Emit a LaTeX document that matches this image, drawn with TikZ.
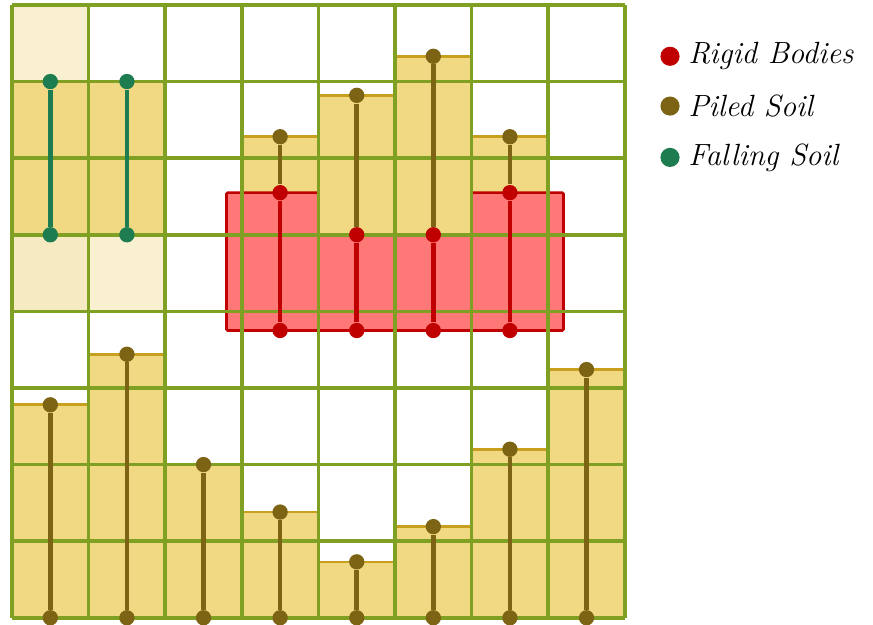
\documentclass[tikz,border=0pt]{standalone}
\usetikzlibrary{positioning}

\definecolor{gridgreen}{RGB}{128,160,36}
\definecolor{soilfill}{RGB}{240,217,130}
\definecolor{soiledge}{RGB}{200,160,30}
\definecolor{soillight}{RGB}{249,240,210}
\definecolor{soillighter}{RGB}{246,234,195}
\definecolor{piledbrown}{RGB}{125,100,20}
\definecolor{rigidfill}{RGB}{255,120,120}
\definecolor{rigidred}{RGB}{192,0,0}
\definecolor{fallgreen}{RGB}{30,125,80}

\begin{document}
\begin{tikzpicture}[
  x=1cm, y=1cm,
  cell/.style={draw=gridgreen, line width=1.3pt},
  soil/.style={fill=soilfill, draw=soiledge, line width=0.3pt},
  soiltop/.style={draw=soiledge, line width=1pt},
  rigid/.style={fill=rigidfill, draw=rigidred, line width=1pt, rounded corners=0.5pt},
  sdot/.style={circle, inner sep=0pt, minimum size=2mm},
  pdot/.style={sdot, fill=piledbrown},
  rdot/.style={sdot, fill=rigidred},
  fdot/.style={sdot, fill=fallgreen},
  pline/.style={draw=piledbrown, line width=1.7pt},
  rline/.style={draw=rigidred, line width=1.7pt},
  fline/.style={draw=fallgreen, line width=1.7pt},
  legdot/.style={circle, inner sep=0pt, minimum size=2.5mm},
  legtext/.style={anchor=west, inner sep=0pt, font=\fontsize{11.4}{13}\selectfont\itshape}
]
\useasboundingbox[fill=white] (-0.157,-0.091) rectangle (11.24,8.065);

% falling soil
\fill[soillight] (0,7) rectangle (1,8);
\fill[soillighter] (0,4) rectangle (1,5);
\fill[soillight] (1,4) rectangle (2,5);
\fill[soilfill] (0,5) rectangle (2,7);

% piled soil, bottom
\foreach \c/\h in {0/2.78,1/3.44,2/2.0,3/1.38,4/0.73,5/1.19,6/2.2,7/3.24} {
  \path[soil] (\c,0) rectangle (\c+1,\h);
  \draw[soiltop] (\c,\h) -- (\c+1,\h);
}

% piled soil on the rigid body
\foreach \c/\b/\h in {3/5.55/6.28,4/5/6.82,5/5/7.33,6/5.55/6.28} {
  \path[soil] (\c,\b) rectangle (\c+1,\h);
  \draw[soiltop] (\c,\h) -- (\c+1,\h);
}

% rigid body
\path[rigid] (2.8,5.55) -- (4,5.55) -- (4,5) -- (6,5) -- (6,5.55) -- (7.2,5.55)
  -- (7.2,3.75) -- (2.8,3.75) -- cycle;

\draw[cell] (0,0) grid (8,8);

% particles
\foreach \c in {0,1} {
  \node[fdot] (ft\c) at (\c+0.5,7) {};
  \node[fdot] (fb\c) at (\c+0.5,5) {};
  \draw[fline] (ft\c) -- (fb\c);
}

\foreach \c/\h in {0/2.78,1/3.44,2/2.0,3/1.38,4/0.73,5/1.19,6/2.2,7/3.24} {
  \node[pdot] (pt\c) at (\c+0.5,\h) {};
  \node[pdot] (pb\c) at (\c+0.5,0) {};
  \draw[pline] (pt\c) -- (pb\c);
}

\foreach \c/\b/\h in {3/5.55/6.28,4/5/6.82,5/5/7.33,6/5.55/6.28} {
  \node[pdot] (st\c) at (\c+0.5,\h) {};
  \node[rdot] (rt\c) at (\c+0.5,\b) {};
  \node[rdot] (rb\c) at (\c+0.5,3.75) {};
  \draw[pline] (st\c) -- (rt\c);
  \draw[rline] (rt\c) -- (rb\c);
}

% legend
\node[legdot, fill=rigidred] (legrigid) at (8.59,7.33) {};
\node[legtext, right=0.1cm of legrigid] (txtrigid) {Rigid Bodies};
\node[legdot, fill=piledbrown] (legpiled) at (8.59,6.68) {};
\node[legtext, right=0.1cm of legpiled] (txtpiled) {Piled Soil};
\node[legdot, fill=fallgreen] (legfall) at (8.59,6.01) {};
\node[legtext, right=0.1cm of legfall] (txtfall) {Falling Soil};

\end{tikzpicture}
\end{document}
